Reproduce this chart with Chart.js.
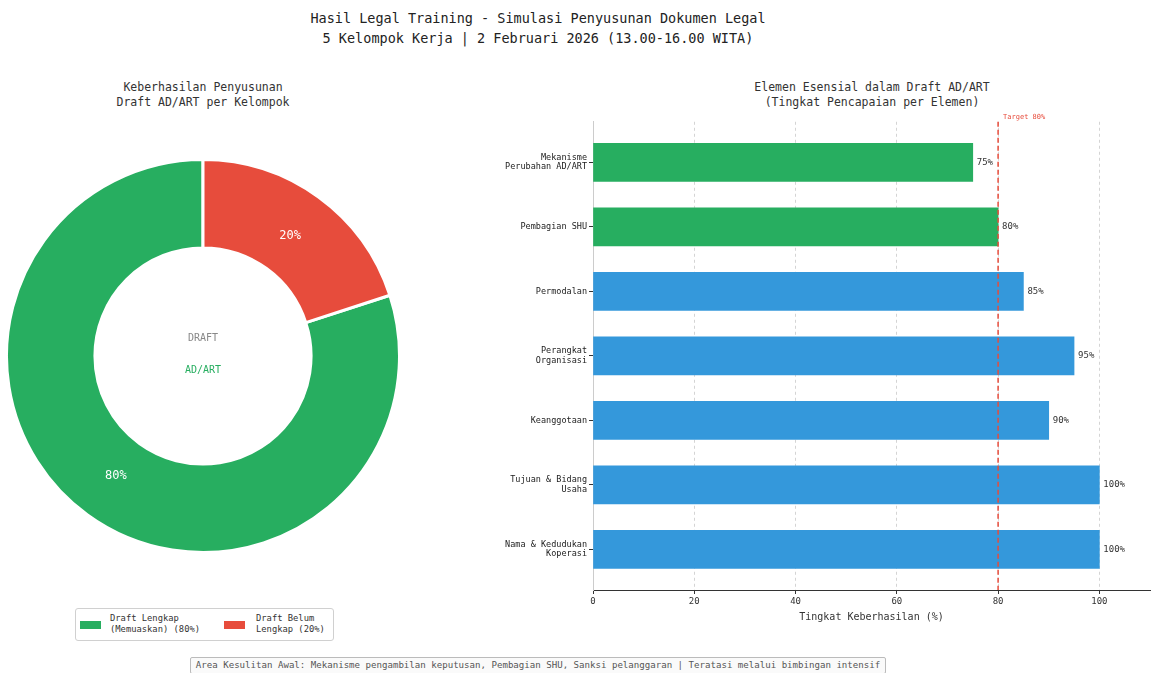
<!DOCTYPE html>
<html>
<head>
<meta charset="utf-8">
<script src="https://cdn.jsdelivr.net/npm/chart.js@4.4.1/dist/chart.umd.min.js"></script>
<style>
  body { margin: 0; width: 1152px; height: 673px; background: #fff; position: relative; overflow: hidden;
         font-family: "DejaVu Sans Mono", monospace; color: #222; }
  .abs { position: absolute; }
  #judul { left: 0; top: 8px; width: 1076px; text-align: center; font-size: 13.5px; line-height: 20px; color: #222; }
  .subjudul { text-align: center; font-size: 11.5px; line-height: 15px; color: #333; }
  #legenda { left: 75px; top: 608px; width: 257px; height: 31px; border: 1px solid #d0d0d0; border-radius: 3px; font-size: 8.8px; line-height: 11px; color: #333; }
  .sw { position: absolute; width: 21px; height: 8px; }
  .lt { position: absolute; white-space: pre; }
  #catatan { left: 190px; top: 657px; width: 694px; height: 15px; border: 1px solid #bbb; border-radius: 2px; background: #fafafa;
             font-size: 9.1px; line-height: 15px; text-align: center; color: #555; white-space: nowrap; }
</style>
</head>
<body>
<div id="judul" class="abs">Hasil Legal Training - Simulasi Penyusunan Dokumen Legal<br>5 Kelompok Kerja | 2 Februari 2026 (13.00-16.00 WITA)</div>
<div class="abs subjudul" style="left:53px;top:80px;width:300px">Keberhasilan Penyusunan<br>Draft AD/ART per Kelompok</div>
<div class="abs subjudul" style="left:672px;top:80px;width:400px">Elemen Esensial dalam Draft AD/ART<br>(Tingkat Pencapaian per Elemen)</div>

<div class="abs" style="left:5px;top:158px;width:396px;height:396px"><canvas id="donat"></canvas></div>
<div class="abs" style="left:480px;top:110px;width:672px;height:530px"><canvas id="batang"></canvas></div>

<div id="legenda" class="abs"></div>
<div id="catatan" class="abs">Area Kesulitan Awal: Mekanisme pengambilan keputusan, Pembagian SHU, Sanksi pelanggaran | Teratasi melalui bimbingan intensif</div>

<script>
// data
const statusLabel = ["Draft Lengkap\n(Memuaskan) (80%)", "Draft Belum\nLengkap (20%)"];
const statusNilai = [80, 20];

// urutan dari bawah ke atas (seperti barh)
const elemen = [
  "Nama & Kedudukan\nKoperasi",
  "Tujuan & Bidang\nUsaha",
  "Keanggotaan",
  "Perangkat\nOrganisasi",
  "Permodalan",
  "Pembagian SHU",
  "Mekanisme\nPerubahan AD/ART"
];
const capaian = [100, 100, 90, 95, 85, 80, 75];
const tickX = [0, 20, 40, 60, 80, 100];
const target = 80;

const HIJAU = "#27ae60", MERAH = "#e74c3c", BIRU = "#3498db";
const FONT = '"DejaVu Sans Mono", monospace';
Chart.defaults.font.family = FONT;
Chart.defaults.animation = false;

// legenda kiri (html)
const leg = document.getElementById("legenda");
const legPos = [{sw: 4, tx: 34}, {sw: 148, tx: 180}];
statusLabel.forEach((t, i) => {
  const s = document.createElement("div");
  s.className = "sw";
  s.style.left = legPos[i].sw + "px";
  s.style.top = "12px";
  s.style.background = i === 0 ? HIJAU : MERAH;
  leg.appendChild(s);
  const l = document.createElement("div");
  l.className = "lt";
  l.style.left = legPos[i].tx + "px";
  l.style.top = "4px";
  l.textContent = t;
  leg.appendChild(l);
});

// label persen + teks tengah donat
const donatLabel = {
  id: "donatLabel",
  afterDatasetsDraw(chart) {
    const ctx = chart.ctx;
    const meta = chart.getDatasetMeta(0);
    ctx.save();
    ctx.textAlign = "center";
    ctx.textBaseline = "middle";
    ctx.font = "12px " + FONT;
    ctx.fillStyle = "#fff";
    meta.data.forEach((arc, i) => {
      const p = arc.getProps(["x", "y", "startAngle", "endAngle", "outerRadius"], true);
      const a = (p.startAngle + p.endAngle) / 2;
      const r = p.outerRadius * 0.755;
      ctx.fillText(statusNilai[i] + "%", p.x + Math.cos(a) * r, p.y + Math.sin(a) * r);
    });
    const c = meta.data[0];
    ctx.font = "10px " + FONT;
    ctx.fillStyle = "#888";
    ctx.fillText("DRAFT", c.x, c.y - 18);
    ctx.fillStyle = HIJAU;
    ctx.fillText("AD/ART", c.x, c.y + 14);
    ctx.restore();
  }
};

new Chart(document.getElementById("donat"), {
  type: "doughnut",
  data: {
    labels: statusLabel,
    datasets: [{
      data: statusNilai,
      backgroundColor: [HIJAU, MERAH],
      borderColor: "#fff",
      borderWidth: 3
    }]
  },
  options: {
    responsive: true,
    maintainAspectRatio: false,
    events: [],
    cutout: "55%",
    rotation: 72,
    layout: { padding: 0 },
    plugins: { legend: { display: false }, tooltip: { enabled: false } }
  },
  plugins: [donatLabel]
});

// label nilai + garis target
const batangLabel = {
  id: "batangLabel",
  afterDatasetsDraw(chart) {
    const ctx = chart.ctx;
    const {top, bottom} = chart.chartArea;
    const xs = chart.scales.x;
    ctx.save();
    ctx.font = "9px " + FONT;
    ctx.fillStyle = "#333";
    ctx.textBaseline = "middle";
    chart.getDatasetMeta(0).data.forEach((bar, i) => {
      ctx.fillText(capaian[i] + "%", bar.x + 4, bar.y);
    });
    const tx = xs.getPixelForValue(target);
    ctx.strokeStyle = MERAH;
    ctx.lineWidth = 1.5;
    ctx.setLineDash([5, 3]);
    ctx.beginPath();
    ctx.moveTo(tx, top);
    ctx.lineTo(tx, bottom);
    ctx.stroke();
    ctx.setLineDash([]);
    ctx.font = "7px " + FONT;
    ctx.fillStyle = MERAH;
    ctx.textBaseline = "bottom";
    ctx.fillText("Target " + target + "%", tx + 5, top - 1);
    ctx.restore();
  }
};

new Chart(document.getElementById("batang"), {
  type: "bar",
  data: {
    datasets: [{
      data: capaian.map((v, i) => ({x: v, y: i})),
      backgroundColor: capaian.map(v => v <= target ? HIJAU : BIRU),
      barThickness: 38
    }]
  },
  options: {
    indexAxis: "y",
    responsive: true,
    maintainAspectRatio: false,
    events: [],
    layout: { padding: { top: 10, right: 2, left: 0, bottom: 0 } },
    plugins: { legend: { display: false }, tooltip: { enabled: false } },
    scales: {
      x: {
        type: "linear",
        min: 0,
        max: 110,
        afterBuildTicks: s => { s.ticks = tickX.map(v => ({value: v})); },
        afterFit: s => { s.height = 50; },
        grid: { color: "#d4d4d4", tickColor: "#333", tickLength: 4 },
        border: { color: "#333", width: 1, dash: [3, 3] },
        ticks: { font: { size: 9 }, color: "#333", padding: 2 },
        title: { display: true, text: "Tingkat Keberhasilan (%)", font: { size: 10 }, color: "#333", padding: { bottom: 17, top: 0 } }
      },
      y: {
        type: "linear",
        min: -0.63,
        max: 6.63,
        offset: false,
        afterBuildTicks: s => { s.ticks = elemen.map((_, i) => ({value: i})); },
        afterFit: s => { s.width = 113; },
        grid: { drawOnChartArea: false, offset: false, color: "#333", tickLength: 4 },
        border: { color: "#ccc", width: 1 },
        ticks: {
          font: { size: 8.5, lineHeight: 1.15 },
          color: "#222",
          padding: 2,
          callback: v => elemen[v] ? elemen[v].split("\n") : ""
        }
      }
    }
  },
  plugins: [batangLabel]
});
</script>
</body>
</html>
